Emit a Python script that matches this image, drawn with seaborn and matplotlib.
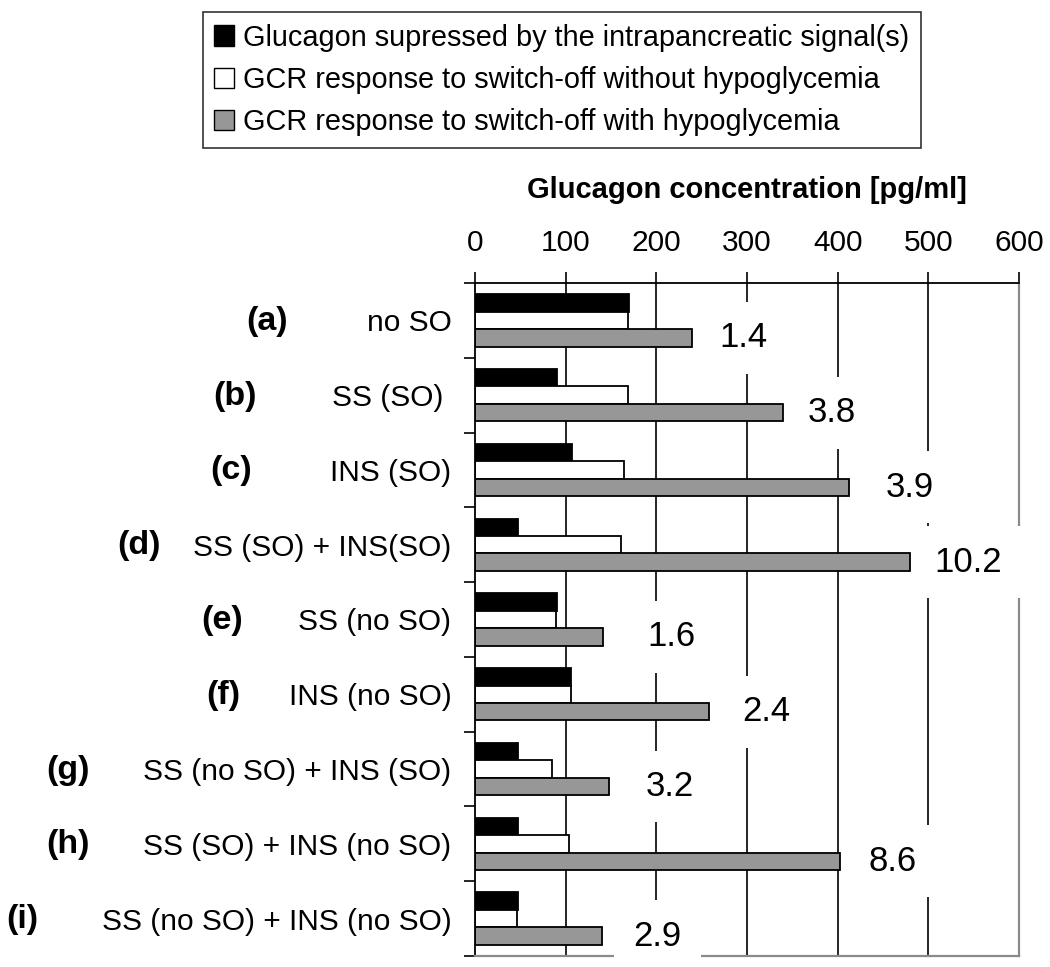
import numpy as np
import pandas as pd
import matplotlib
matplotlib.use('Agg')
import matplotlib.pyplot as plt
from matplotlib.patches import Patch
import seaborn as sns

# dados
letters = ['(a)', '(b)', '(c)', '(d)', '(e)', '(f)', '(g)', '(h)', '(i)']
conditions = ['no SO', 'SS (SO) ', 'INS (SO)', 'SS (SO) + INS(SO)', 'SS (no SO)',
              'INS (no SO)', 'SS (no SO) + INS (SO)', 'SS (SO) + INS (no SO)',
              'SS (no SO) + INS (no SO)']
series = ['Glucagon supressed by the intrapancreatic signal(s)',
          'GCR response to switch-off without hypoglycemia',
          'GCR response to switch-off with hypoglycemia']
suppressed = [170, 90, 107, 47, 90, 106, 47, 47, 47]
no_hypo = [169, 169, 164, 161, 89, 106, 85, 104, 46]
with_hypo = [239, 340, 413, 480, 141, 258, 148, 402, 140]
ratio_labels = ['1.4', '3.8', '3.9', '10.2', '1.6', '2.4', '3.2', '8.6', '2.9']
x_ticks = [0, 100, 200, 300, 400, 500, 600]

# ajustes de layout (pixels / unidades)
letter_gap = [79, 75, 78, 32, 55, 48, 54, 54, 63]
ratio_gap = [31, 27, 40, 27, 49, 37, 40, 32, 35]
colors = ['black', 'white', '#979797']

df = pd.DataFrame({
    'cond': conditions * 3,
    'serie': [series[0]] * 9 + [series[1]] * 9 + [series[2]] * 9,
    'valor': suppressed + no_hypo + with_hypo,
})

sns.set_theme(style='white')
plt.rcParams['font.family'] = ['Liberation Sans', 'DejaVu Sans']
plt.rcParams['text.color'] = 'black'
plt.rcParams['axes.labelcolor'] = 'black'
plt.rcParams['xtick.color'] = 'black'
plt.rcParams['ytick.color'] = 'black'

fig = plt.figure(figsize=(10.5, 9.67), dpi=100)
ax = fig.add_axes([0.4524, 0.0114, 0.5181, 0.6960])

sns.barplot(data=df, y='cond', x='valor', hue='serie', orient='h',
            palette=colors, edgecolor='black', linewidth=1.3, width=0.7,
            saturation=1, legend=False, ax=ax, errorbar=None)

ax.set_xlim(0, 600)
ax.set_ylim(8.5, -0.5)
ax.set_xticks(x_ticks)
ax.xaxis.tick_top()
ax.xaxis.set_label_position('top')
ax.tick_params(axis='x', direction='out', length=8, width=1.2, color='black',
               labelsize=21.5, pad=11, top=True, bottom=False)
ax.set_xlabel('Glucagon concentration [pg/ml]', fontsize=21, fontweight='bold',
              labelpad=22)
ax.set_ylabel('')

# ticks do eixo y nas fronteiras entre categorias
ax.set_yticks(np.arange(9))
ax.set_yticklabels(conditions, fontsize=21.5)
ax.set_yticks(np.arange(-0.5, 9, 1), minor=True)
ax.tick_params(axis='y', which='major', length=0, pad=17)
ax.tick_params(axis='y', which='minor', direction='out', length=8, width=1.2,
               color='black', left=True)

for xv in x_ticks[1:-1]:
    ax.axvline(xv, color='black', lw=1.2, zorder=0)
ax.set_axisbelow(True)

for side in ['top', 'left']:
    ax.spines[side].set_color('black')
    ax.spines[side].set_linewidth(1.3)
for side in ['right', 'bottom']:
    ax.spines[side].set_color('#8a8a8a')
    ax.spines[side].set_linewidth(1.6)
    ax.spines[side].set_visible(True)

# razões ao lado das barras cinzas
for i, (val, txt) in enumerate(zip(with_hypo, ratio_labels)):
    ax.text(val + ratio_gap[i], i + 0.7 / 3, txt, fontsize=25, ha='left', va='center',
            bbox=dict(facecolor='white', edgecolor='none', pad=14),
            zorder=5, clip_on=False)

# letras em negrito à esquerda dos rótulos
fig.canvas.draw()
for i, lab in enumerate(ax.get_yticklabels()):
    bb = lab.get_window_extent()
    fig.text(bb.x0 - letter_gap[i], (bb.y0 + bb.y1) / 2 + 2, letters[i],
             transform=None, fontsize=24.5, fontweight='bold', ha='right', va='center')

handles = [Patch(facecolor=c, edgecolor='black', linewidth=1) for c in colors]
leg = fig.legend(handles, series, loc='upper center', bbox_to_anchor=(0.535, 0.9876),
                 fontsize=20.8, frameon=True, fancybox=False, edgecolor='black',
                 handlelength=0.7, handleheight=0.7, handletextpad=0.3,
                 labelspacing=0.5, borderpad=0.4, borderaxespad=0)
leg.get_frame().set_linewidth(1.2)

fig.savefig('out.png', dpi=100)
